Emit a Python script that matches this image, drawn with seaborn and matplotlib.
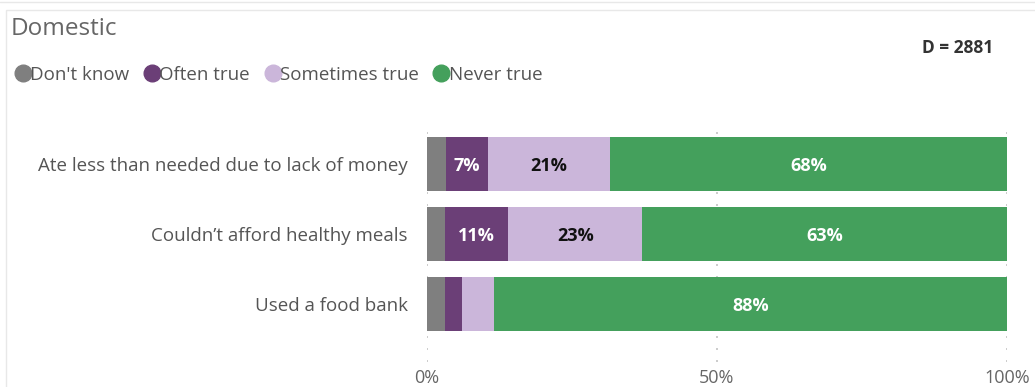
import matplotlib
matplotlib.use("Agg")
import matplotlib.pyplot as plt
from matplotlib.lines import Line2D
from matplotlib.patches import Rectangle
import seaborn as sns
import pandas as pd
import numpy as np

categories = ["Ate less than needed due to lack of money",
              "Couldn\u2019t afford healthy meals",
              "Used a food bank"]
series = ["Don't know", "Often true", "Sometimes true", "Never true"]
dont_know = [3.3, 3.1, 3.1]
often_true = [7.2, 10.9, 2.9]
sometimes_true = [21.1, 23.1, 5.6]
never_true = [68.4, 62.9, 88.4]
colors = ["#7f7f7f", "#6b3f77", "#cbb6da", "#44a05c"]
label_colors = ["white", "white", "#111111", "white"]
xticks = [0, 50, 100]
xtick_labels = ["0%", "50%", "100%"]

sns.set_theme(style="white")
plt.rcParams['font.family'] = ['Open Sans', 'DejaVu Sans']

W, H = 1035, 387
fig = plt.figure(figsize=(W / 100, H / 100), dpi=100)

def fx(px):
    return px / W

def fy(py):
    return 1 - py / H

ax = fig.add_axes([fx(427), fy(362), fx(1007) - fx(427), fy(128) - fy(362)])

vals = [dont_know, often_true, sometimes_true, never_true]
cum = np.cumsum(np.array(vals), axis=0)
df = pd.DataFrame({"cat": categories})
for i in range(len(series) - 1, -1, -1):
    df["v"] = cum[i]
    sns.barplot(data=df, x="v", y="cat", color=colors[i], orient="h",
                width=0.77, ax=ax, saturation=1, linewidth=0)

# labels
for i in range(len(series)):
    for j in range(len(categories)):
        v = vals[i][j]
        if v >= 6.5:
            left = cum[i][j] - v
            ax.text(left + v / 2, j + 0.035, f"{round(v):.0f}%", ha="center", va="center",
                    color=label_colors[i], fontsize=13, fontweight="bold")

ax.set_xlim(0, 100)
ax.set_ylim(2 + 58 / 70, -0.5 - 1 / 70)
ax.set_xticks(xticks)
ax.set_xticklabels(xtick_labels, fontsize=13, color="#666666")
ax.tick_params(axis="x", length=0, pad=5)
ax.tick_params(axis="y", length=0, pad=14)
for lab in ax.get_yticklabels():
    lab.set_fontsize(13.5)
    lab.set_color("#555555")
ax.set_xlabel("")
ax.set_ylabel("")
for s in ax.spines.values():
    s.set_visible(False)
ax.grid(False)
for x in xticks:
    ax.axvline(x, color="#c4c4c4", linestyle=(0, (1.2, 6)), linewidth=1.2, zorder=0)
ax.set_axisbelow(True)

# title and legend
fig.text(fx(11), fy(29), "Domestic", fontsize=17.5, color="#666666", va="center", ha="left")
fig.text(fx(993), fy(48), "D = 2881", fontsize=12.5, color="#333333", va="center", ha="right",
         fontweight="bold")
handles = [Line2D([0], [0], marker="o", linestyle="", markersize=12,
                  markerfacecolor=c, markeredgecolor=c) for c in colors]
leg = fig.legend(handles, series, loc="center left", bbox_to_anchor=(fx(4), fy(75)),
                 ncol=4, frameon=False, handletextpad=-0.2, columnspacing=0.6,
                 fontsize=13.5, handlelength=1.2, borderaxespad=0)
for t in leg.get_texts():
    t.set_color("#555555")

# visual frame
fig.add_artist(Line2D([0, 1], [fy(2), fy(2)], color="#e8e8e8", linewidth=1, transform=fig.transFigure))
fig.add_artist(Rectangle((fx(6), -0.1), 1.0, fy(10) + 0.1, fill=False, edgecolor="#e8e8e8",
                         linewidth=1, transform=fig.transFigure))

fig.savefig("out.png", dpi=100)
